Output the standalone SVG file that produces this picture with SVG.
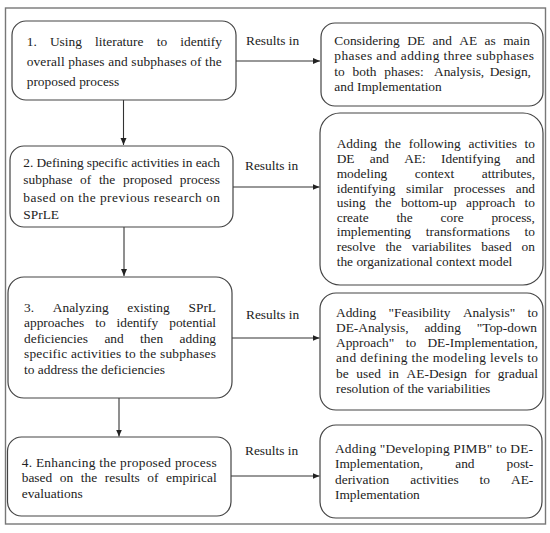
<svg xmlns="http://www.w3.org/2000/svg" width="550" height="533" viewBox="0 0 550 533">
<defs>
<marker id="ah" markerWidth="8" markerHeight="7" refX="7" refY="3" orient="auto" markerUnits="userSpaceOnUse">
<path d="M0,0 L7,3 L0,6 z" fill="#222"/>
</marker>
<style>
.box{fill:#fff;stroke:#444;stroke-width:1.2}
.t{font-family:"Liberation Serif","Times New Roman",serif;font-size:13.4px;fill:#222}
.c{stroke:#333;stroke-width:1.1;fill:none;marker-end:url(#ah)}
</style>
</defs>
<rect width="550" height="533" fill="#fff"/>
<rect x="5.5" y="8" width="540" height="516" fill="none" stroke="#777" stroke-width="1.4"/>

<g id="connectors">
<line class="c" x1="123.5" y1="100" x2="123.5" y2="145"/>
<line class="c" x1="124" y1="227" x2="124" y2="276"/>
<line class="c" x1="119" y1="398" x2="119" y2="436.5"/>
<line class="c" x1="236" y1="61" x2="320" y2="61"/>
<line class="c" x1="233" y1="187" x2="319.5" y2="187"/>
<line class="c" x1="232" y1="338" x2="319.5" y2="338"/>
<line class="c" x1="231" y1="476" x2="319.5" y2="476"/>
<text class="t" x="246" y="45">Results in</text>
<text class="t" x="245" y="170">Results in</text>
<text class="t" x="246" y="318.5">Results in</text>
<text class="t" x="245" y="455">Results in</text>
</g>

<g id="step1">
<rect class="box" x="12" y="21" width="224" height="79" rx="14"/>
<text class="t" y="45.5"><tspan x="26.7">1.</tspan><tspan x="49.9">Using</tspan><tspan x="95.1">literature</tspan><tspan x="156.7">to</tspan><tspan x="180.3">identify</tspan></text>
<text class="t" x="26.7" y="65.5" textLength="195" lengthAdjust="spacing">overall phases and subphases of the</text>
<text class="t" x="26.7" y="85.5">proposed process</text>
</g>

<g id="step2">
<rect class="box" x="10" y="146" width="223" height="81" rx="14"/>
<text class="t" x="23.3" y="167" textLength="196.7" lengthAdjust="spacing">2. Defining specific activities in each</text>
<text class="t" y="184"><tspan x="23.3">subphase</tspan><tspan x="80.1">of</tspan><tspan x="98.9">the</tspan><tspan x="123">proposed</tspan><tspan x="179.8">process</tspan></text>
<text class="t" x="23.3" y="201.5" textLength="196.7" lengthAdjust="spacing">based on the previous research on</text>
<text class="t" x="23.3" y="218.5">SPrLE</text>
</g>

<g id="step3">
<rect class="box" x="8" y="277" width="224" height="121" rx="16"/>
<text class="t" y="311.7"><tspan x="24">3.</tspan><tspan x="52.8">Analyzing</tspan><tspan x="127.3">existing</tspan><tspan x="188.5">SPrL</tspan></text>
<text class="t" y="327"><tspan x="24">approaches</tspan><tspan x="95.2">to</tspan><tspan x="116.5">identify</tspan><tspan x="169.2">potential</tspan></text>
<text class="t" y="342.5"><tspan x="24">deficiencies</tspan><tspan x="104.4">and</tspan><tspan x="140.1">then</tspan><tspan x="179.6">adding</tspan></text>
<text class="t" x="24" y="358" textLength="192" lengthAdjust="spacing">specific activities to the subphases</text>
<text class="t" x="24" y="374">to address the deficiencies</text>
</g>

<g id="step4">
<rect class="box" x="7.5" y="437" width="223.5" height="79" rx="14"/>
<text class="t" x="21.7" y="466.7" textLength="195" lengthAdjust="spacing">4. Enhancing the proposed process</text>
<text class="t" y="482.3"><tspan x="21.7">based</tspan><tspan x="59.8">on</tspan><tspan x="80.8">the</tspan><tspan x="104.8">results</tspan><tspan x="147.3">of</tspan><tspan x="166.1">empirical</tspan></text>
<text class="t" x="21.7" y="497.7">evaluations</text>
</g>

<g id="result1">
<rect class="box" x="321" y="23" width="222" height="83" rx="14"/>
<text class="t" y="45"><tspan x="334.3">Considering</tspan><tspan x="407.2">DE</tspan><tspan x="432.5">and</tspan><tspan x="459.3">AE</tspan><tspan x="484.6">as</tspan><tspan x="503.2">main</tspan></text>
<text class="t" x="334.3" y="60.3" textLength="199.7" lengthAdjust="spacing">phases and adding three subphases</text>
<text class="t" y="75.8"><tspan x="334.3">to</tspan><tspan x="352.6">both</tspan><tspan x="384.3">phases:</tspan><tspan x="434">Analysis,</tspan><tspan x="489.7">Design,</tspan></text>
<text class="t" x="334.3" y="91">and Implementation</text>
</g>

<g id="result2">
<rect class="box" x="320" y="113" width="223" height="172" rx="20"/>
<text class="t" y="148.3"><tspan x="336.7">Adding</tspan><tspan x="384.6">the</tspan><tspan x="408.7">following</tspan><tspan x="468.5">activities</tspan><tspan x="524.6">to</tspan></text>
<text class="t" y="163.3"><tspan x="336.7">DE</tspan><tspan x="369.7">and</tspan><tspan x="404.2">AE:</tspan><tspan x="441">Identifying</tspan><tspan x="515.7">and</tspan></text>
<text class="t" y="177.7"><tspan x="336.7">modeling</tspan><tspan x="414.8">context</tspan><tspan x="481.8">attributes,</tspan></text>
<text class="t" y="192.7"><tspan x="336.7">identifying</tspan><tspan x="406">similar</tspan><tspan x="453.8">processes</tspan><tspan x="515.7">and</tspan></text>
<text class="t" y="207.3"><tspan x="336.7">using</tspan><tspan x="375.1">the</tspan><tspan x="400.9">bottom-up</tspan><tspan x="466.1">approach</tspan><tspan x="524.6">to</tspan></text>
<text class="t" y="221.7"><tspan x="336.7">create</tspan><tspan x="396.4">the</tspan><tspan x="440.6">core</tspan><tspan x="491.4">process,</tspan></text>
<text class="t" y="236.3"><tspan x="336.7">implementing</tspan><tspan x="425.8">transformations</tspan><tspan x="524.6">to</tspan></text>
<text class="t" y="251"><tspan x="336.7">resolve</tspan><tspan x="385.4">the</tspan><tspan x="411.7">variabilites</tspan><tspan x="481.2">based</tspan><tspan x="521.6">on</tspan></text>
<text class="t" x="336.7" y="266">the organizational context model</text>
</g>

<g id="result3">
<rect class="box" x="320" y="293" width="223" height="117" rx="16"/>
<text class="t" y="316.5"><tspan x="336">Adding</tspan><tspan x="388.5">"Feasibility</tspan><tspan x="462.9">Analysis"</tspan><tspan x="527.6">to</tspan></text>
<text class="t" y="331.8"><tspan x="336">DE-Analysis,</tspan><tspan x="424.4">adding</tspan><tspan x="476.7">"Top-down</tspan></text>
<text class="t" y="347"><tspan x="336">Approach"</tspan><tspan x="405.7">to</tspan><tspan x="427.4">DE-Implementation,</tspan></text>
<text class="t" x="336" y="362.3" textLength="202" lengthAdjust="spacing">and defining the modeling levels to</text>
<text class="t" y="377.6"><tspan x="336">be</tspan><tspan x="356.3">used</tspan><tspan x="388.5">in</tspan><tspan x="406.6">AE-Design</tspan><tspan x="474.5">for</tspan><tspan x="497.8">gradual</tspan></text>
<text class="t" x="336" y="393">resolution of the variabilities</text>
</g>

<g id="result4">
<rect class="box" x="320" y="425" width="222" height="93" rx="16"/>
<text class="t" x="335" y="452.7" textLength="198" lengthAdjust="spacing">Adding "Developing PIMB" to DE-</text>
<text class="t" y="468.3"><tspan x="335">Implementation,</tspan><tspan x="455.2">and</tspan><tspan x="506.5">post-</tspan></text>
<text class="t" y="484"><tspan x="335">derivation</tspan><tspan x="410.3">activities</tspan><tspan x="479.6">to</tspan><tspan x="511">AE-</tspan></text>
<text class="t" x="335" y="499.3">Implementation</text>
</g>
</svg>
